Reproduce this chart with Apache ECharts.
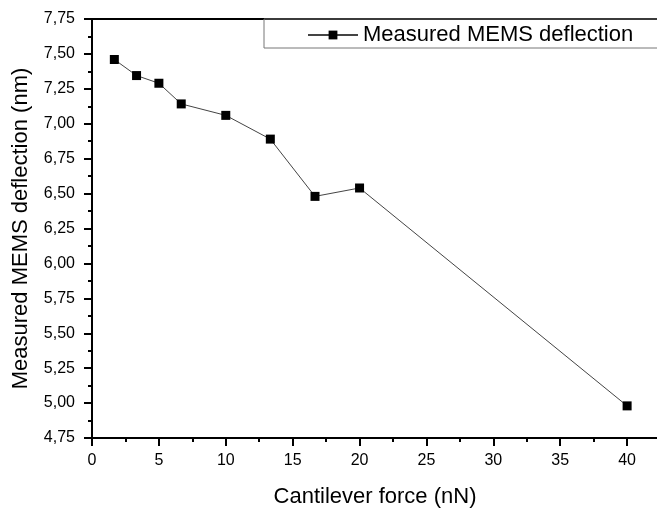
<!DOCTYPE html>
<html>
<head>
<meta charset="utf-8">
<script src="https://cdn.jsdelivr.net/npm/echarts@6/dist/echarts.min.js"></script>
<style>
  html, body { margin: 0; padding: 0; background: #fff; }
  #chart { width: 657px; height: 508px; }
</style>
</head>
<body>
<div id="chart"></div>
<script>
// cantilever force (nN) vs measured deflection (nm)
var forceNN = [1.67, 3.33, 5.0, 6.67, 10.0, 13.33, 16.67, 20.0, 40.0];
var deflectionNm = [7.46, 7.345, 7.29, 7.142, 7.06, 6.89, 6.48, 6.54, 4.98];
var seriesName = "Measured MEMS deflection";

var points = forceNN.map(function (x, i) { return [x, deflectionNm[i]]; });
var font = "Liberation Sans, Arial, sans-serif";

var chart = echarts.init(document.getElementById("chart"));
var option = {
  animation: false,
  backgroundColor: "#fff",
  textStyle: { fontFamily: font },
  // plot area runs past the right edge of the picture (axis goes to 45)
  grid: { left: 92, top: 19, right: -37, bottom: 70, outerBoundsMode: "none", containLabel: false },
  legend: {
    data: [seriesName],
    left: 264,
    top: 19,
    padding: [5, 60, 2, 43],
    itemWidth: 50,
    itemHeight: 11,
    itemGap: 0,
    borderColor: "#777",
    borderWidth: 1,
    textStyle: { fontSize: 22, color: "#000", fontFamily: font }
  },
  xAxis: [
    {
      type: "value",
      min: 0,
      max: 45,
      interval: 5,
      name: "Cantilever force (nN)",
      nameLocation: "middle",
      nameGap: 48,
      nameTextStyle: { fontSize: 22, color: "#000", fontFamily: font, padding: [0, 36, 0, 0] },
      axisLine: { onZero: false, lineStyle: { color: "#000", width: 2 } },
      axisTick: { inside: false, length: 8, lineStyle: { color: "#000", width: 2 } },
      minorTick: { show: true, splitNumber: 2, length: 4, lineStyle: { color: "#000", width: 2 } },
      axisLabel: { margin: 15, fontSize: 16, color: "#000", fontFamily: font },
      splitLine: { show: false }
    },
    {
      type: "value",
      position: "top",
      min: 0,
      max: 45,
      axisLine: { onZero: false, lineStyle: { color: "#000", width: 2 } },
      axisTick: { show: false },
      axisLabel: { show: false },
      splitLine: { show: false }
    }
  ],
  yAxis: {
    type: "value",
    min: 4.75,
    max: 7.75,
    interval: 0.25,
    name: "Measured MEMS deflection (nm)",
    nameLocation: "middle",
    nameGap: 60,
    nameTextStyle: { fontSize: 22, color: "#000", fontFamily: font },
    axisLine: { show: true, onZero: false, lineStyle: { color: "#000", width: 2 } },
    axisTick: { show: true, inside: false, length: 8, lineStyle: { color: "#000", width: 2 } },
    minorTick: { show: true, splitNumber: 2, length: 4, lineStyle: { color: "#000", width: 2 } },
    axisLabel: {
      margin: 17, fontSize: 16, color: "#000", fontFamily: font,
      formatter: function (v) { return v.toFixed(2).replace(".", ","); }
    },
    splitLine: { show: false }
  },
  series: [
    {
      name: seriesName,
      type: "line",
      data: points,
      symbol: "rect",
      symbolSize: 9,
      showAllSymbol: true,
      lineStyle: { color: "#444", width: 1 },
      itemStyle: { color: "#000", borderColor: "#000", borderWidth: 0 }
    }
  ]
};
chart.setOption(option);
</script>
</body>
</html>
